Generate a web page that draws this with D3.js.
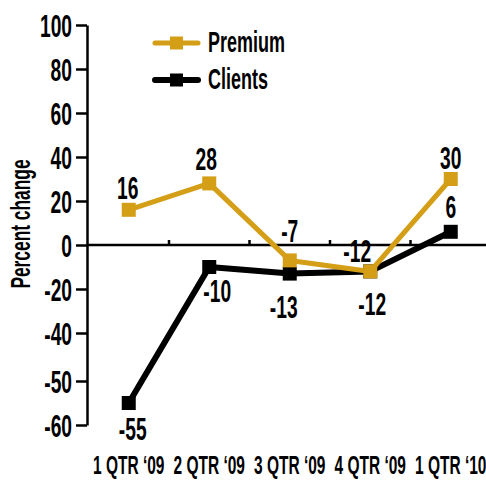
<!DOCTYPE html>
<html><head><meta charset="utf-8">
<script src="https://cdn.jsdelivr.net/npm/d3@7"></script>
<style>body{margin:0;background:#fff} svg{display:block}</style>
</head><body><svg id="c" width="486" height="480"></svg>
<script>
const categories = ["1 QTR \u201809","2 QTR \u201809","3 QTR \u201809","4 QTR \u201809","1 QTR \u201810"];
const premium = [16, 28, -7, -12, 30];
const clients = [-55, -10, -13, -12, 6];
const seriesNames = ["Premium", "Clients"];
const yTickValues = [100, 80, 60, 40, 20, 0, -20, -40, -50, -60];
const yTitle = "Percent change";

// layout (not data)
const premiumLabelOffsets = [[-1,-11],[-3,-13],[0,-18],[-13,-9],[0,-10]];
const clientLabelOffsets = [[4,37],[8,35],[-6,44],[2,44],[0,-14]];

const GOLD = "#D49E16";
const SX = 0.62;
const FONT = "'Liberation Sans', Arial, sans-serif";
const WEIGHT = "bold";

const svg = d3.select("#c");
const x = d3.scaleBand().domain(categories).range([88.5, 491]);
const y = d3.scaleLinear().domain([-60, -50, -40, 100]).range([425, 381, 333, 25]);
const cx = d => x(d) + x.bandwidth() / 2;

function styleText(sel, size) {
  return sel.style("font-family", FONT).style("font-size", size + "px")
    .style("font-weight", WEIGHT).attr("fill", "#000");
}
function txt(g, x0, y0, str, size, anchor) {
  return styleText(g.append("text"), size)
    .attr("transform", `translate(${x0},${y0}) scale(${SX},1)`)
    .attr("text-anchor", anchor).text(str);
}

// zero line + boundary ticks
const y0 = y(0);
svg.append("line").attr("x1", 87).attr("x2", 486).attr("y1", y0).attr("y2", y0)
  .attr("stroke", "#000").attr("stroke-width", 2.5);
categories.slice(1).forEach(c => {
  svg.append("line").attr("x1", x(c)).attr("x2", x(c)).attr("y1", y0).attr("y2", y0 - 5)
    .attr("stroke", "#000").attr("stroke-width", 2.5);
});

// y axis
const gy = svg.append("g").attr("transform", "translate(87,0)")
  .call(d3.axisLeft(y).tickValues(yTickValues).tickSize(11).tickSizeOuter(0).tickFormat(d => String(d)));
gy.select(".domain").attr("stroke", "#000").attr("stroke-width", 2.5);
gy.selectAll(".tick line").attr("stroke", "#000").attr("stroke-width", 2.5);
styleText(gy.selectAll(".tick text"), 31)
  .attr("x", null).attr("dy", null)
  .attr("text-anchor", "end")
  .attr("transform", `translate(-15,11) scale(${SX},1)`);

// x category labels
const gx = svg.append("g").attr("transform", "translate(0,474)")
  .call(d3.axisBottom(x).tickSize(0).tickSizeOuter(0));
gx.select(".domain").remove();
styleText(gx.selectAll(".tick text"), 25)
  .attr("y", null).attr("dy", null).attr("text-anchor", "middle")
  .attr("transform", `scale(${SX},1)`);

// y title
styleText(svg.append("text"), 28)
  .attr("transform", `translate(30,224) rotate(-90) scale(${SX},1)`)
  .attr("text-anchor", "middle").text(yTitle);

// series
const series = [
  {name: seriesNames[1], values: clients, color: "#000", width: 6, offs: clientLabelOffsets},
  {name: seriesNames[0], values: premium, color: GOLD, width: 5, offs: premiumLabelOffsets}
];
const line = d3.line().x((d, i) => cx(categories[i])).y(d => y(d));
const MS = 14;
series.forEach(s => {
  svg.append("path").datum(s.values).attr("d", line).attr("fill", "none")
    .attr("stroke", s.color).attr("stroke-width", s.width).attr("stroke-linejoin", "round");
  svg.selectAll(null).data(s.values).enter().append("rect")
    .attr("x", (d, i) => cx(categories[i]) - MS / 2).attr("y", d => y(d) - MS / 2)
    .attr("width", MS).attr("height", MS).attr("fill", s.color);
});
series.forEach(s => {
  s.values.forEach((v, i) => {
    txt(svg, cx(categories[i]) + s.offs[i][0], y(v) + s.offs[i][1], String(v), 31, "middle");
  });
});

// legend
const legend = [
  {name: seriesNames[0], color: GOLD, width: 5, yy: 43},
  {name: seriesNames[1], color: "#000", width: 6, yy: 80}
];
legend.forEach(l => {
  svg.append("line").attr("x1", 155).attr("x2", 198).attr("y1", l.yy).attr("y2", l.yy)
    .attr("stroke", l.color).attr("stroke-width", l.width).attr("stroke-linecap", "round");
  svg.append("rect").attr("x", 176.5 - 6.5).attr("y", l.yy - 6.5).attr("width", 13).attr("height", 13)
    .attr("fill", l.color);
  txt(svg, 208, l.yy + 9, l.name, 29, "start");
});
</script>
</body></html>
